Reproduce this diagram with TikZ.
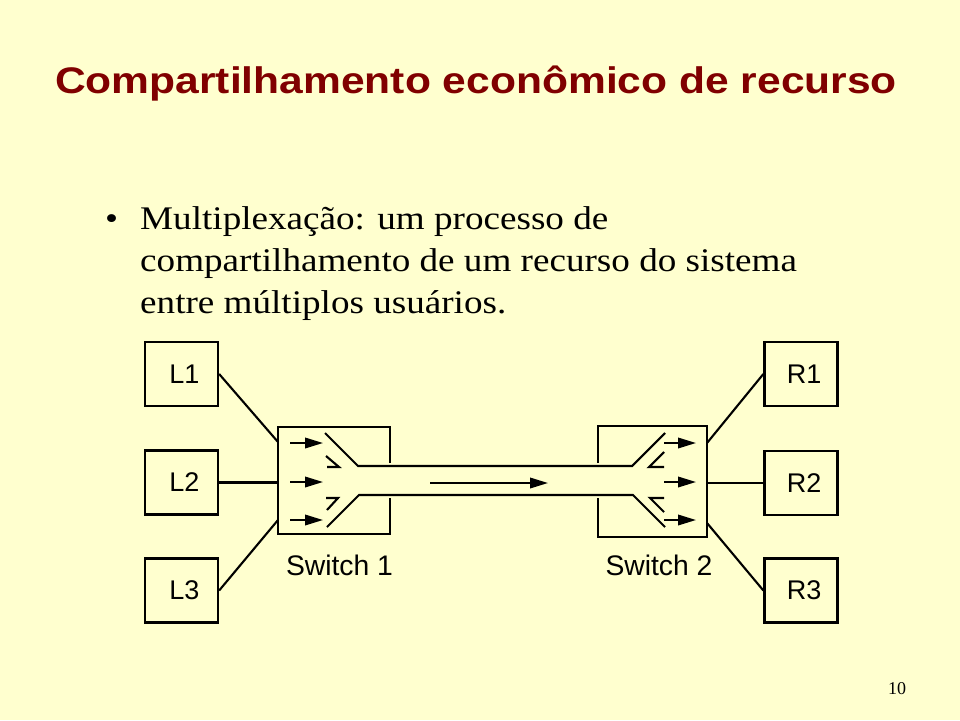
\documentclass[tikz,border=0pt]{standalone}
\usepackage{fontspec}
\setmainfont{Liberation Serif}
\newfontfamily\arialfont{Liberation Sans}
\usetikzlibrary{arrows.meta}
\definecolor{bgc}{HTML}{FFFFCF}
\definecolor{titlec}{HTML}{800000}
\tikzset{
  lbox/.style={draw, line width=2.3pt, minimum width=73pt, minimum height=64pt, inner sep=0pt, font=\arialfont\fontsize{27}{27}\selectfont},
  wire/.style={line width=2.1pt},
  flow/.style={line width=2pt, -{Triangle[length=18pt,width=10.5pt]}},
  btext/.style={anchor=base west, inner sep=0pt, font=\fontsize{33}{33}\selectfont, xscale=1.125},
  slabel/.style={anchor=base, inner sep=0pt, font=\arialfont\fontsize{28.3}{28}\selectfont}
}
\begin{document}
\begin{tikzpicture}[x=1pt,y=-1pt]
\fill[bgc] (0,0) rectangle (960,720);
\useasboundingbox (0,0) rectangle (960,720);
% title
\node[anchor=base west, inner sep=0pt, text=titlec, xscale=1.15, font=\arialfont\bfseries\fontsize{37}{37}\selectfont] (title) at (55,93) {Compartilhamento econômico de recurso};
% bullet text
\node[btext] (bul) at (105,229) {\textbullet};
\node[btext] (t1) at (140,229) {Multiplexação: um processo de};
\node[btext] (t2) at (140,271) {compartilhamento de um recurso do sistema};
\node[btext] (t3) at (140,313) {entre múltiplos usuários.};
% end boxes
\node[lbox] (L1) at (181.5,374) {\hspace{6pt}L1};
\node[lbox] (L2) at (181.5,482.5) {\hspace{6pt}L2};
\node[lbox] (L3) at (181.5,590.5) {\hspace{6pt}L3};
\node[lbox] (R1) at (801,374) {\hspace{6pt}R1};
\node[lbox] (R2) at (801,483) {\hspace{6pt}R2};
\node[lbox] (R3) at (801,590.5) {\hspace{6pt}R3};
% switch attachment points
\coordinate (s1a) at (278,442);
\coordinate (s1b) at (278,482.5);
\coordinate (s1c) at (278,520);
\coordinate (s2a) at (707,443);
\coordinate (s2b) at (707,483);
\coordinate (s2c) at (707,523);
% switch boxes
\draw[wire] (390,463) -- (390,427) -- (278,427) -- (278,534) -- (390,534) -- (390,498);
\draw[wire] (598,463) -- (598,426) -- (707,426) -- (707,537) -- (598,537) -- (598,498);
% pipe
\draw[wire] (325,433) -- (358,466) -- (632,466) -- (665,433);
\draw[wire] (327,527) -- (359,495) -- (633,495) -- (665,527);
% small half arrows
\draw[wire] (326,456) -- (339,467) -- (327,467);
\draw[wire] (326,498) -- (338,498) -- (327,510);
\draw[wire] (664,452) -- (649,467) -- (664,467);
\draw[wire] (664,498) -- (650,498) -- (664,512);
% flow arrows
\coordinate (a1s) at (290,443); \coordinate (a1e) at (323,443);
\coordinate (a2s) at (290,482); \coordinate (a2e) at (323,482);
\coordinate (a3s) at (290,520); \coordinate (a3e) at (323,520);
\coordinate (m1s) at (430,483); \coordinate (m1e) at (548,483);
\coordinate (b1s) at (664,443); \coordinate (b1e) at (696,443);
\coordinate (b2s) at (664,482); \coordinate (b2e) at (696,482);
\coordinate (b3s) at (664,520); \coordinate (b3e) at (696,520);
\draw[flow] (a1s) -- (a1e);
\draw[flow] (a2s) -- (a2e);
\draw[flow] (a3s) -- (a3e);
\draw[flow] (m1s) -- (m1e);
\draw[flow] (b1s) -- (b1e);
\draw[flow] (b2s) -- (b2e);
\draw[flow] (b3s) -- (b3e);
% connectors
\draw[wire] (L1.east) -- (s1a);
\draw[wire] (L2.east) -- (s1b);
\draw[wire] (L3.east) -- (s1c);
\draw[wire] (s2a) -- (R1.west);
\draw[wire] (s2b) -- (R2.west);
\draw[wire] (s2c) -- (R3.west);
% labels
\node[slabel] (sw1) at (339.5,575) {Switch 1};
\node[slabel] (sw2) at (659,575) {Switch 2};
\node[anchor=base, inner sep=0pt, font=\fontsize{18}{18}\selectfont] (pg) at (897,694) {10};
\end{tikzpicture}
\end{document}
